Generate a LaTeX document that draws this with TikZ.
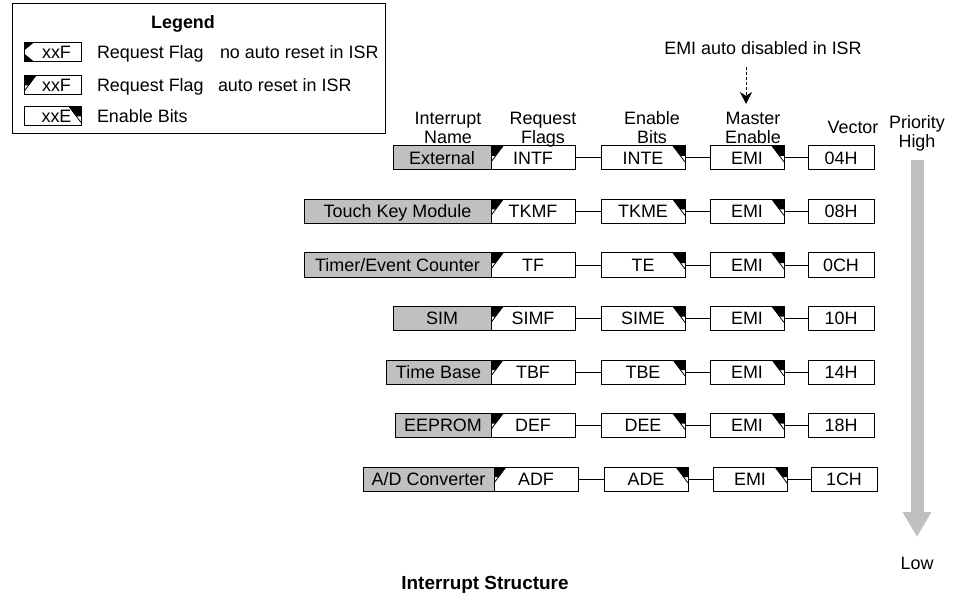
\documentclass[tikz,border=0pt]{standalone}
\usepackage{fontspec}
\setmainfont{Liberation Sans}
\usetikzlibrary{arrows.meta}
\definecolor{boxgray}{HTML}{C0C0C0}
\begin{document}
\begin{tikzpicture}[x=1bp,y=-1bp,line width=1bp,
    every node/.style={font=\fontsize{18}{19}\selectfont,inner sep=0pt,outer sep=0pt,text height=12.9bp,text depth=0pt},
    cell/.style={draw,anchor=west,minimum height=24bp},
    namebox/.style={cell,fill=boxgray},
    flagbox/.style={cell,minimum width=84bp,path picture={
        \fill (path picture bounding box.north west) -- ++(12bp,0) -- ++(-7.5bp,-10bp) -- ++(-4.5bp,0) -- cycle;
        \draw[line width=.8bp] (path picture bounding box.north west) ++(12bp,0) -- ++(-12bp,-16bp);}},
    keepbox/.style={cell,path picture={
        \fill (path picture bounding box.north west) -- ++(10bp,0) -- ++(-10bp,-8bp) -- cycle;
        \fill (path picture bounding box.south west) -- ++(10bp,0) -- ++(-10bp,8bp) -- cycle;}},
    enbox/.style={cell,minimum width=84bp,path picture={
        \fill (path picture bounding box.north east) -- ++(-12bp,0) -- ++(7.5bp,-10bp) -- ++(4.5bp,0) -- cycle;
        \draw[line width=.8bp] (path picture bounding box.north east) ++(-12bp,0) -- ++(12bp,-16bp);}},
    emibox/.style={enbox,minimum width=74bp},
    vecbox/.style={cell,minimum width=66bp},
    lgdbox/.style={minimum width=57bp,minimum height=19bp},
    bold/.style={font=\fontsize{18}{19}\selectfont\bfseries}]
    \useasboundingbox (0,0) rectangle (955,596);
    \draw (12,4) rectangle (385,134);
    \node[bold] (lgd) at (183,22) {Legend};
    \node[keepbox,lgdbox] (lgdA) at (24,52) {\hspace*{8bp}xxF};
    \node[anchor=west] (lgdAa) at (97,52) {Request Flag};
    \node[anchor=west] (lgdAb) at (220,52) {no auto reset in ISR};
    \node[flagbox,lgdbox] (lgdB) at (24,85) {\hspace*{8bp}xxF};
    \node[anchor=west] (lgdBa) at (97,85) {Request Flag};
    \node[anchor=west] (lgdBb) at (218,85) {auto reset in ISR};
    \node[enbox,lgdbox] (lgdC) at (24,116) {\hspace*{8bp}xxE};
    \node[anchor=west] (lgdCa) at (97,116) {Enable Bits};

    \node (emilbl) at (763,48) {EMI auto disabled in ISR};
    \coordinate (emitop) at (746,67);
    \coordinate (emitip) at (746,104);
    \draw[dash pattern=on 3bp off 2bp,-{Stealth[width=12bp,length=12bp]}] (emitop) -- (emitip);

    \node (hdrA1) at (448,118) {Interrupt};
    \node (hdrA2) at (448,137) {Name};
    \node (hdrB1) at (543,118) {Request};
    \node (hdrB2) at (543,137) {Flags};
    \node (hdrC1) at (652,118) {Enable};
    \node (hdrC2) at (652,137) {Bits};
    \node (hdrD1) at (753,118) {Master};
    \node (hdrD2) at (753,137) {Enable};
    \node (hdrE) at (853,127) {Vector};
    \node (prio) at (917,122) {Priority};
    \node (high) at (917,141) {High};
    \node (low) at (917,563) {Low};
    \draw[boxgray,line width=13bp,shorten <=12.5bp,shorten >=19.5bp,-{Triangle[width=27bp,length=25bp]}] (high) -- (low);

    \node[namebox,minimum width=98bp] (ext) at (393,158) {External};
    \node[flagbox] (intf) at (491,158) {INTF};
    \node[enbox] (inte) at (601,158) {INTE};
    \node[emibox] (emiA) at (710,158) {EMI};
    \node[vecbox] (vecA) at (808,158) {04H};
    \draw (intf) -- (inte) (inte) -- (emiA) (emiA) -- (vecA);

    \node[namebox,minimum width=187bp] (tkm) at (304,211.5) {Touch Key Module};
    \node[flagbox] (tkmf) at (491,211.5) {TKMF};
    \node[enbox] (tkme) at (601,211.5) {TKME};
    \node[emibox] (emiB) at (710,211.5) {EMI};
    \node[vecbox] (vecB) at (808,211.5) {08H};
    \draw (tkmf) -- (tkme) (tkme) -- (emiB) (emiB) -- (vecB);

    \node[namebox,minimum width=187bp] (tmr) at (304,265) {Timer/Event Counter};
    \node[flagbox] (tf) at (491,265) {TF};
    \node[enbox] (te) at (601,265) {TE};
    \node[emibox] (emiC) at (710,265) {EMI};
    \node[vecbox] (vecC) at (808,265) {0CH};
    \draw (tf) -- (te) (te) -- (emiC) (emiC) -- (vecC);

    \node[namebox,minimum width=98bp] (sim) at (393,318.5) {SIM};
    \node[flagbox] (simf) at (491,318.5) {SIMF};
    \node[enbox] (sime) at (601,318.5) {SIME};
    \node[emibox] (emiD) at (710,318.5) {EMI};
    \node[vecbox] (vecD) at (808,318.5) {10H};
    \draw (simf) -- (sime) (sime) -- (emiD) (emiD) -- (vecD);

    \node[namebox,minimum width=105bp] (tb) at (386,372) {Time Base};
    \node[flagbox] (tbf) at (491,372) {TBF};
    \node[enbox] (tbe) at (601,372) {TBE};
    \node[emibox] (emiE) at (710,372) {EMI};
    \node[vecbox] (vecE) at (808,372) {14H};
    \draw (tbf) -- (tbe) (tbe) -- (emiE) (emiE) -- (vecE);

    \node[namebox,minimum width=96bp] (eep) at (395,425.5) {EEPROM};
    \node[flagbox] (def) at (491,425.5) {DEF};
    \node[enbox] (dee) at (601,425.5) {DEE};
    \node[emibox] (emiF) at (710,425.5) {EMI};
    \node[vecbox] (vecF) at (808,425.5) {18H};
    \draw (def) -- (dee) (dee) -- (emiF) (emiF) -- (vecF);

    \node[namebox,minimum width=131bp] (adc) at (363,479) {A/D Converter};
    \node[flagbox] (adf) at (494,479) {ADF};
    \node[enbox] (ade) at (604,479) {ADE};
    \node[emibox] (emiG) at (713,479) {EMI};
    \node[vecbox] (vecG) at (811,479) {1CH};
    \draw (adf) -- (ade) (ade) -- (emiG) (emiG) -- (vecG);

    \node[font=\fontsize{19}{21}\selectfont\bfseries,text height=13.6bp] (title) at (485,583) {Interrupt Structure};
\end{tikzpicture}
\end{document}
